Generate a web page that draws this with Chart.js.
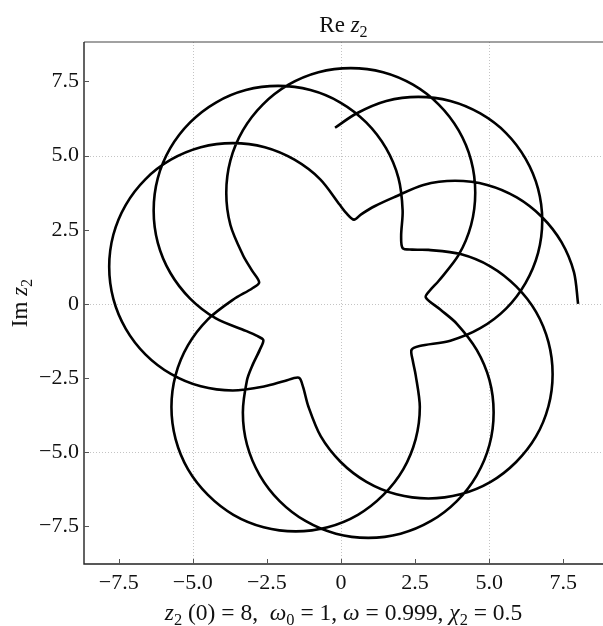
<!DOCTYPE html>
<html>
<head>
<meta charset="utf-8">
<script src="https://cdn.jsdelivr.net/npm/chart.js@4.4.1/dist/chart.umd.min.js"></script>
<style>
  html, body { margin: 0; padding: 0; background: #fff; }
  canvas { display: block; }
</style>
</head>
<body>
<canvas id="chart" width="603" height="626"></canvas>
<script>
// trajectory, in time order (start at z2(0) = 8)
const reZ = [
  8.0, 7.86, 7.44, 6.78, 5.93, 4.93, 3.85, 2.78, 1.78, 1.15, 0.68, 0.44,
  0.18, -0.04, -0.70, -1.57, -2.57, -3.65, -4.73, -5.74, -6.60, -7.26, -7.68, -7.82, -7.68, -7.26, -6.60, -5.74, -4.73, -3.65, -2.57, -1.90, -1.42,
  -1.28, -1.10, -0.68, -0.01, 0.86, 1.87, 2.95, 4.03, 5.05, 5.91, 6.58, 7.00, 7.14, 7.00, 6.58, 5.91, 5.05, 4.03, 2.95, 2.40, 2.08,
  2.03, 2.08, 1.94, 1.52, 0.85, -0.02, -1.03, -2.12, -3.21, -4.22, -5.09, -5.76, -6.18, -6.32, -6.18, -5.76, -5.09, -4.22, -3.21, -2.85, -2.62,
  -2.74, -3.00, -3.17, -3.31, -3.17, -2.74, -2.07, -1.20, -0.17, 0.92, 2.01, 3.04, 3.91, 4.58, 5.01, 5.15, 5.01, 4.58, 3.91, 3.35, 2.86,
  3.00, 3.30, 3.97, 4.39, 4.53, 4.39, 3.97, 3.30, 2.43, 1.42, 0.33, -0.76, -1.77, -2.64, -3.31, -3.73, -3.87, -3.73, -3.31, -3.00, -2.76,
  -3.00, -3.63, -4.49, -5.16, -5.58, -5.72, -5.58, -5.16, -4.49, -3.63, -2.61, -1.53, -0.45, 0.57, 1.43, 2.10, 2.52, 2.66, 2.52, 2.42, 2.38,
  2.65, 3.69, 4.70, 5.57, 6.23, 6.65, 6.79, 6.65, 6.23, 5.57, 4.70, 3.69, 2.61, 1.53, 0.52, -0.20
];
const imZ = [
  0, 1.07, 2.08, 2.93, 3.59, 4.01, 4.15, 4.01, 3.59, 3.30, 3.02, 2.84,
  3.06, 3.34, 4.20, 4.86, 5.28, 5.42, 5.28, 4.86, 4.20, 3.34, 2.33, 1.25, 0.17, -0.84, -1.70, -2.36, -2.78, -2.92, -2.78, -2.60, -2.49,
  -2.80, -3.46, -4.47, -5.33, -6.00, -6.42, -6.56, -6.42, -6.00, -5.33, -4.47, -3.45, -2.37, -1.29, -0.27, 0.59, 1.26, 1.68, 1.82, 1.83, 1.88,
  2.30, 3.15, 4.24, 5.25, 6.12, 6.79, 7.21, 7.35, 7.21, 6.79, 6.12, 5.25, 4.24, 3.15, 2.06, 1.05, 0.18, -0.49, -0.91, -1.07, -1.22,
  -1.55, -2.10, -2.57, -3.66, -4.75, -5.78, -6.65, -7.32, -7.75, -7.89, -7.75, -7.32, -6.65, -5.78, -4.75, -3.66, -2.57, -1.55, -0.67, -0.19, 0.22,
  0.45, 0.78, 1.65, 2.66, 3.75, 4.84, 5.85, 6.72, 7.39, 7.81, 7.95, 7.81, 7.39, 6.72, 5.85, 4.84, 3.75, 2.66, 1.65, 1.12, 0.72,
  0.52, 0.15, -0.52, -1.39, -2.40, -3.48, -4.56, -5.58, -6.44, -7.11, -7.53, -7.67, -7.53, -7.11, -6.44, -5.58, -4.56, -3.48, -2.40, -1.90, -1.55,
  -1.42, -1.24, -0.82, -0.16, 0.71, 1.72, 2.80, 3.88, 4.89, 5.76, 6.42, 6.84, 6.98, 6.84, 6.42, 5.94
];
const tickValues = [-7.5, -5, -2.5, 0, 2.5, 5, 7.5];
const tickLabels = ['\u22127.5', '\u22125.0', '\u22122.5', '0', '2.5', '5.0', '7.5'];
const gridValues = [-5, 0, 5];

const SERIF = '"Liberation Serif", "Times New Roman", serif';

// rich text pieces: t = text, it = italic, sub = subscript
const titleText = [{ t: 'Re ' }, { t: 'z', it: true }, { t: '2', sub: true }];
const yLabelText = [{ t: 'Im ' }, { t: 'z', it: true }, { t: '2', sub: true }];
const captionText = [
  { t: 'z', it: true }, { t: '2', sub: true }, { t: ' (0) = 8,  ' },
  { t: '\u03c9', it: true }, { t: '0', sub: true }, { t: ' = 1, ' },
  { t: '\u03c9', it: true }, { t: ' = 0.999, ' },
  { t: '\u03c7', it: true }, { t: '2', sub: true }, { t: ' = 0.5' }
];

function drawRich(ctx, segs, cx, baseline, size) {
  const parts = segs.map(s => {
    const fs = s.sub ? size * 0.7 : size;
    const font = (s.it ? 'italic ' : '') + fs + 'px ' + SERIF;
    ctx.font = font;
    return { t: s.t, font, w: ctx.measureText(s.t).width, dy: s.sub ? size * 0.22 : 0 };
  });
  const total = parts.reduce((a, p) => a + p.w, 0);
  let x = cx - total / 2;
  ctx.textAlign = 'left';
  ctx.textBaseline = 'alphabetic';
  parts.forEach(p => {
    ctx.font = p.font;
    ctx.fillText(p.t, x, baseline + p.dy);
    x += p.w;
  });
}

const framePlugin = {
  id: 'frame',
  beforeDatasetsDraw(chart) {
    const { ctx, chartArea: a, scales: { x, y } } = chart;
    ctx.save();
    ctx.strokeStyle = '#c4c4c4';
    ctx.lineWidth = 1;
    ctx.setLineDash([1, 2]);
    gridValues.forEach(v => {
      const px = Math.round(x.getPixelForValue(v)) + 0.5;
      ctx.beginPath(); ctx.moveTo(px, a.top); ctx.lineTo(px, a.bottom); ctx.stroke();
      const py = Math.round(y.getPixelForValue(v)) + 0.5;
      ctx.beginPath(); ctx.moveTo(a.left, py); ctx.lineTo(a.right, py); ctx.stroke();
    });
    ctx.restore();
  },
  afterDraw(chart) {
    const { ctx, chartArea: a, scales: { x, y } } = chart;
    ctx.save();
    // frame: top, left, bottom
    ctx.strokeStyle = '#444';
    ctx.lineWidth = 1.2;
    ctx.beginPath(); ctx.moveTo(a.left, a.top); ctx.lineTo(a.right, a.top); ctx.stroke();
    ctx.strokeStyle = '#222';
    ctx.lineWidth = 1.4;
    ctx.beginPath(); ctx.moveTo(a.left, a.top); ctx.lineTo(a.left, a.bottom); ctx.lineTo(a.right, a.bottom); ctx.stroke();
    // inward ticks
    ctx.strokeStyle = '#555';
    ctx.lineWidth = 1;
    tickValues.forEach(v => {
      const px = Math.round(x.getPixelForValue(v)) + 0.5;
      ctx.beginPath(); ctx.moveTo(px, a.bottom); ctx.lineTo(px, a.bottom - 5); ctx.stroke();
      const py = Math.round(y.getPixelForValue(v)) + 0.5;
      ctx.beginPath(); ctx.moveTo(a.left, py); ctx.lineTo(a.left + 5, py); ctx.stroke();
    });
    // titles
    ctx.fillStyle = '#111';
    const cx = (a.left + a.right) / 2;
    drawRich(ctx, titleText, cx, 32, 23);
    drawRich(ctx, captionText, cx, 620, 23.5);
    ctx.translate(27, (a.top + a.bottom) / 2);
    ctx.rotate(-Math.PI / 2);
    drawRich(ctx, yLabelText, 0, 0, 23);
    ctx.restore();
  }
};

const tickFont = { family: SERIF, size: 22 };

new Chart(document.getElementById('chart'), {
  type: 'scatter',
  data: {
    datasets: [{
      data: reZ.map((v, i) => ({ x: v, y: imZ[i] })),
      showLine: true,
      borderColor: '#000',
      borderWidth: 2.6,
      borderJoinStyle: 'round',
      pointRadius: 0,
      tension: 0.3,
      fill: false
    }]
  },
  options: {
    responsive: false,
    animation: false,
    devicePixelRatio: 1,
    layout: { padding: { top: 42, right: 0, bottom: 0, left: 0 } },
    plugins: {
      legend: { display: false },
      tooltip: { enabled: false }
    },
    scales: {
      x: {
        type: 'linear',
        min: -8.67,
        max: 8.84,
        grid: { display: false, drawTicks: false },
        border: { display: false },
        afterBuildTicks: s => { s.ticks = tickValues.map(v => ({ value: v })); },
        afterFit: s => { s.height = 62; },
        ticks: {
          autoSkip: false,
          maxRotation: 0,
          padding: 6,
          color: '#111',
          font: tickFont,
          callback: v => tickLabels[tickValues.indexOf(v)]
        }
      },
      y: {
        type: 'linear',
        min: -8.77,
        max: 8.83,
        grid: { display: false, drawTicks: false },
        border: { display: false },
        afterBuildTicks: s => { s.ticks = tickValues.map(v => ({ value: v })); },
        afterFit: s => { s.width = 84; },
        ticks: {
          autoSkip: false,
          padding: 5,
          color: '#111',
          font: tickFont,
          callback: v => tickLabels[tickValues.indexOf(v)]
        }
      }
    }
  },
  plugins: [framePlugin]
});
</script>
</body>
</html>
